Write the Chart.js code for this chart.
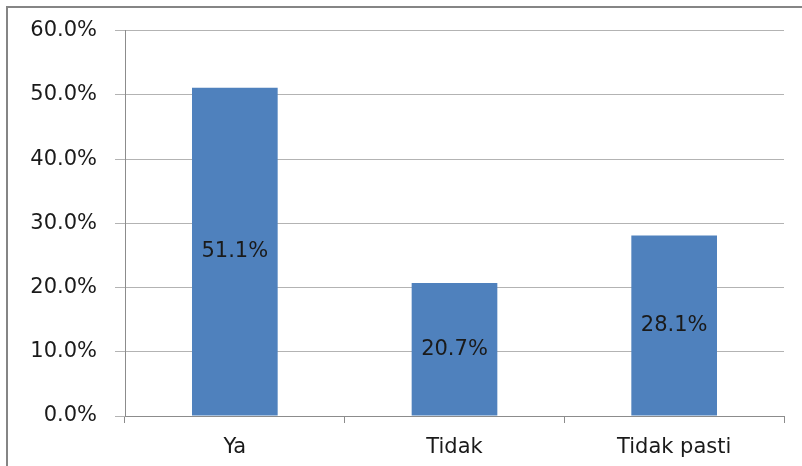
<!DOCTYPE html>
<html lang="id">
<head>
    <meta charset="UTF-8">
    <title>Grafik</title>
    <script src="https://cdn.jsdelivr.net/npm/chart.js"></script>
    <style>
        body { margin: 0; padding: 0; background: #fff; }
        #wrap { position: relative; width: 802px; height: 466px; }
    </style>
</head>
<body>
<div id="wrap">
    <canvas id="grafik" width="802" height="466"></canvas>
</div>

<script>
    // kategori dan nilai (persen)
    const kategori = ['Ya', 'Tidak', 'Tidak pasti'];
    const nilai = [51.1, 20.7, 28.1];
    const yTicks = [0, 10, 20, 30, 40, 50, 60];

    const fontUtama = { family: '"DejaVu Sans", Verdana, sans-serif', size: 21 };

    // bingkai luar dan label nilai di tengah batang
    const bingkai = {
        id: 'bingkai',
        beforeDraw(chart) {
            const c = chart.ctx;
            c.save();
            c.strokeStyle = '#858585';
            c.lineWidth = 2;
            c.strokeRect(7, 7, 820, 480);
            c.restore();
        }
    };
    const labelNilai = {
        id: 'labelNilai',
        afterDatasetsDraw(chart) {
            const c = chart.ctx;
            const meta = chart.getDatasetMeta(0);
            c.save();
            c.font = fontUtama.size + 'px ' + fontUtama.family;
            c.fillStyle = '#1a1a1a';
            c.textAlign = 'center';
            c.textBaseline = 'middle';
            meta.data.forEach((bar, i) => {
                const mid = (bar.y + bar.base) / 2;
                c.fillText(nilai[i].toFixed(1) + '%', bar.x, mid);
            });
            c.restore();
        }
    };

    new Chart(document.getElementById('grafik'), {
        type: 'bar',
        data: {
            labels: kategori,
            datasets: [{
                data: nilai,
                backgroundColor: '#4f81bd',
                borderWidth: 0,
                categoryPercentage: 0.39,
                barPercentage: 1
            }]
        },
        options: {
            responsive: false,
            animation: false,
            layout: { padding: { top: 30, right: 18, left: 0, bottom: 0 } },
            plugins: { legend: { display: false }, tooltip: { enabled: false } },
            scales: {
                y: {
                    min: 0,
                    max: 60,
                    afterBuildTicks: s => { s.ticks = yTicks.map(v => ({ value: v })); },
                    afterFit: s => { s.width = 125; },
                    ticks: {
                        font: fontUtama,
                        color: '#1a1a1a',
                        padding: 18,
                        callback: v => v.toFixed(1) + '%'
                    },
                    grid: { color: '#b3b3b3', tickLength: 10, lineWidth: 1 },
                    border: { color: '#8c8c8c' }
                },
                x: {
                    afterFit: s => { s.height = 50; },
                    ticks: { font: fontUtama, color: '#1a1a1a', padding: 12 },
                    grid: {
                        offset: true,
                        drawOnChartArea: false,
                        tickLength: 7,
                        color: '#8c8c8c'
                    },
                    border: { color: '#8c8c8c' }
                }
            }
        },
        plugins: [bingkai, labelNilai]
    });
</script>
</body>
</html>
